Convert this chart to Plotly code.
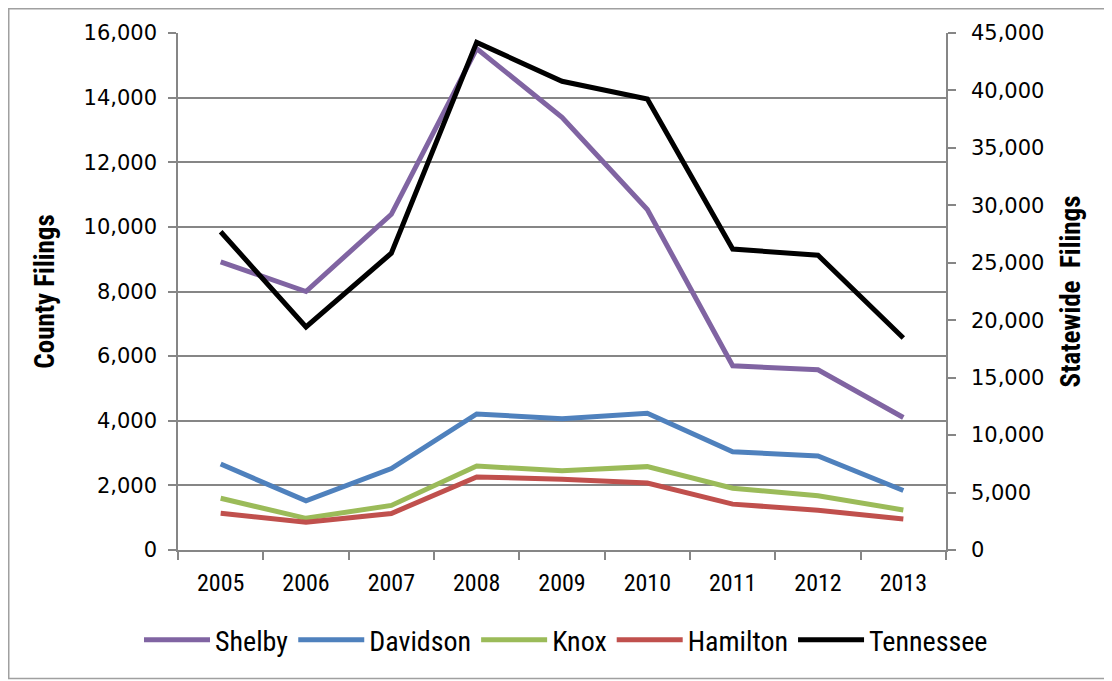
import plotly.graph_objects as go

years = ["2005", "2006", "2007", "2008", "2009", "2010", "2011", "2012", "2013"]
shelby = [8920, 8000, 10390, 15520, 13390, 10540, 5700, 5580, 4100]
davidson = [2660, 1520, 2520, 4210, 4060, 4230, 3040, 2910, 1840]
knox = [1600, 980, 1380, 2600, 2450, 2580, 1910, 1680, 1240]
hamilton = [1140, 860, 1130, 2260, 2190, 2070, 1420, 1230, 960]
tennessee = [27700, 19420, 25840, 44180, 40800, 39250, 26190, 25660, 18460]

county_series = [
    ("Shelby", shelby, "#8064A2"),
    ("Davidson", davidson, "#4F81BD"),
    ("Knox", knox, "#9BBB59"),
    ("Hamilton", hamilton, "#C0504D"),
]

# page body has an 8px margin; figure placed so the plot lands where the reference has it
OFF = 8
W, H = 1112 - OFF, 681 - OFF
L, R, T, B = 178 - OFF, 946 - OFF, 33 - OFF, 550 - OFF
pw, ph = R - L, B - T

narrow = "Liberation Sans Narrow, Arial Narrow, Roboto Condensed, sans-serif"
wide = "DejaVu Sans, Verdana, sans-serif"
grey = "#868686"

fig = go.Figure()
for name, vals, col in county_series:
    fig.add_trace(go.Scatter(x=years, y=vals, name=name, mode="lines",
                             line=dict(color=col, width=5), yaxis="y"))
fig.add_trace(go.Scatter(x=years, y=tennessee, name="Tennessee", mode="lines",
                         line=dict(color="#000000", width=5), yaxis="y2"))

fig.update_layout(
    width=W, height=H,
    margin=dict(l=L, r=W - R, t=T, b=H - B, autoexpand=False),
    paper_bgcolor="white", plot_bgcolor="white",
    showlegend=True,
    legend=dict(orientation="h", x=(139 - 178) / pw, xanchor="left",
                y=(550 - 640) / ph, yanchor="middle",
                font=dict(family=narrow, size=28, color="#000000"),
                itemwidth=66, tracegroupgap=0, bgcolor="rgba(0,0,0,0)"),
    xaxis=dict(type="category", range=[-0.5, 8.5], tickson="boundaries",
               showline=True, linecolor=grey, linewidth=1.5,
               ticks="outside", ticklen=8, tickcolor=grey, tickwidth=1.5,
               showgrid=False, zeroline=False,
               tickfont=dict(family=narrow, size=24, color="#000000"),
               ticklabelstandoff=10),
    yaxis=dict(range=[0, 16000], dtick=2000, tickformat=",d",
               showline=True, linecolor=grey, linewidth=1.5,
               ticks="outside", ticklen=8, tickcolor=grey, tickwidth=1.5,
               showgrid=True, gridcolor=grey, gridwidth=1.5, zeroline=False,
               tickfont=dict(family=wide, size=21, color="#000000"),
               ticklabelstandoff=7,
               title=dict(text="County Filings", standoff=21,
                          font=dict(family=narrow, size=27, color="#000000", weight="bold"))),
    yaxis2=dict(range=[0, 45000], dtick=5000, tickformat=",d", overlaying="y", side="right",
                showline=True, linecolor=grey, linewidth=1.5,
                ticks="outside", ticklen=8, tickcolor=grey, tickwidth=1.5,
                showgrid=False, zeroline=False,
                tickfont=dict(family=wide, size=21, color="#000000"),
                ticklabelstandoff=11,
                title=dict(text="Statewide  Filings", standoff=18,
                           font=dict(family=narrow, size=27, color="#000000", weight="bold"))),
)

fig.add_shape(type="rect", xref="paper", yref="paper",
              x0=(0.75 - L) / pw, x1=(W - 0.75 - L) / pw,
              y0=(B - (H - 2.5)) / ph, y1=(B - 0.75) / ph,
              line=dict(color="#A0A0A0", width=1.5), layer="below")

fig.write_html("out.html")
